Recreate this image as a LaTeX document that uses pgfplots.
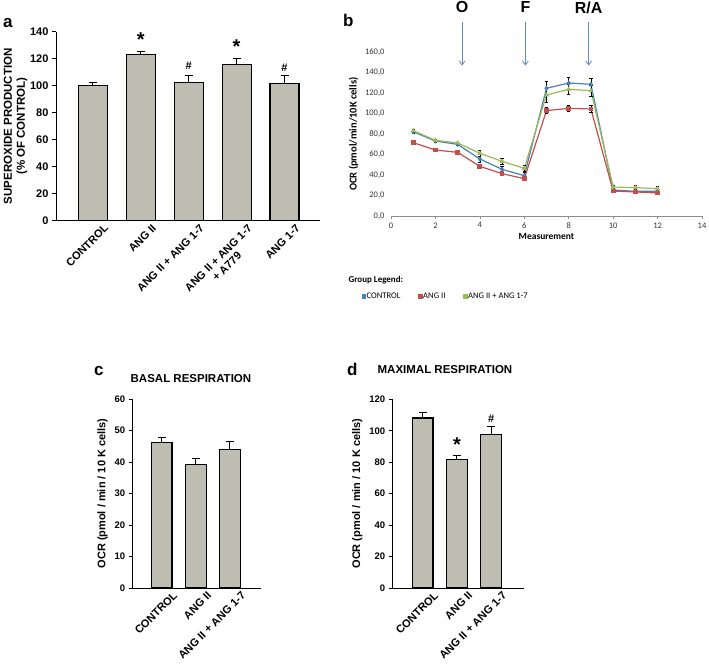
\documentclass[border=0pt]{standalone}
\usepackage{fontspec}
\setmainfont{Liberation Sans}
\newfontfamily\calibri{Carlito}
\usepackage{pgfplots}
\pgfplotsset{compat=1.18}
\usetikzlibrary{arrows.meta}
\definecolor{bargray}{RGB}{189,190,177}
\definecolor{xlblue}{RGB}{74,126,187}
\definecolor{xlred}{RGB}{192,80,77}
\definecolor{xlgreen}{RGB}{155,187,89}
\definecolor{arrowblue}{RGB}{95,140,195}

\pgfplotsset{
 barax/.style={
  scale only axis, anchor=south west, clip=false,
  axis lines*=left, axis line style={black, line width=1pt},
  ymin=0, xtick=data, ybar,
  xtick style={draw=none},
  ytick style={black, line width=1pt}, tick align=outside, major tick length=4pt,
  /pgf/number format/assume math mode=true,
  yticklabel style={font=\bfseries\fontsize{9.5}{10}\selectfont},
  xticklabel style={font=\bfseries\fontsize{11}{12}\selectfont, rotate=45, anchor=north east, align=center, inner sep=1pt, xshift=9.5pt, yshift=-5.6pt},
  ylabel style={font=\bfseries\fontsize{11}{13}\selectfont, align=center},
 },
 barplot/.style={fill=bargray, draw=black, line width=1.1pt,
   error bars/y dir=plus, error bars/y explicit,
   error bars/error bar style={black, line width=1pt},
   error bars/error mark options={rotate=90, black, mark size=4pt, line width=1pt}},
 lineplot/.style={line width=1.2pt, mark size=1.8pt, mark options={solid},
   error bars/y dir=both, error bars/y explicit,
   error bars/error bar style={black, line width=0.5pt},
   error bars/error mark options={rotate=90, black, mark size=1.6pt, line width=0.5pt}},
}

\begin{document}
\begin{tikzpicture}
\useasboundingbox (0,0) rectangle (709pt,-668pt);

% ---------------- panel a ----------------
\begin{axis}[barax, at={(56pt,-220.7pt)}, width=264pt, height=189pt,
  bar width=29pt, xmin=-0.77, xmax=4.74, ymax=140, ytick={0,20,...,140},
  yticklabel style={font=\bfseries\fontsize{11}{11}\selectfont},
  xticklabels={CONTROL, ANG II, ANG II + ANG 1-7, {ANG II + ANG 1-7\\+ A779}, ANG 1-7},
  ylabel={SUPEROXIDE PRODUCTION\\(\% OF CONTROL)},
  ylabel style={font=\bfseries\fontsize{11.5}{13}\selectfont, at={(axis description cs:-0.0955,0.5)}, anchor=south}]
\addplot[barplot] coordinates {
 (0,100.2) +- (0,1.8)
 (1,123.0) +- (0,2.6)
 (2,102.6) +- (0,5.0)
 (3,116.0) +- (0,4.5)
 (4,101.6) +- (0,6.2)
};
\node[font=\bfseries\fontsize{20}{20}\selectfont] at (axis cs:1,134.5) {*};
\node[font=\bfseries\fontsize{11}{11}\selectfont] at (axis cs:2,114.6) {\#};
\node[font=\bfseries\fontsize{20}{20}\selectfont] at (axis cs:3,129.2) {*};
\node[font=\bfseries\fontsize{11}{11}\selectfont] at (axis cs:4,113.4) {\#};
\end{axis}

% ---------------- panel b ----------------
\begin{axis}[scale only axis, anchor=south west, at={(391pt,-216pt)},
  width=311pt, height=163.7pt, clip=false,
  xmin=0, xmax=14, ymin=0, ymax=160,
  xtick={0,2,...,14}, ytick={0,20,...,160},
  axis lines*=left,
  y axis line style={draw=none}, x axis line style={draw=black!45, line width=0.6pt},
  ytick style={draw=none}, xtick style={draw=black!45, line width=0.6pt},
  tick align=outside, major tick length=3pt,
  /pgf/number format/assume math mode=true,
  ticklabel style={font=\calibri\fontsize{8.5}{9}\selectfont, text=black!80},
  yticklabel style={/pgf/number format/.cd, fixed, fixed zerofill, precision=1, use comma, 1000 sep={}},
  xlabel={Measurement},
  xlabel style={font=\calibri\bfseries\fontsize{9.5}{11}\selectfont, yshift=2pt},
  ylabel={OCR (pmol/min/10K cells)},
  ylabel style={font=\calibri\bfseries\fontsize{10.5}{11}\selectfont},
  legend columns=3,
  legend cell align=left,
  legend style={draw=none, fill=none, inner sep=0pt, at={(-0.0955,-0.493)}, anchor=west,
    font=\calibri\fontsize{8.6}{9}\selectfont,
    nodes={inner sep=0.5pt},
    /tikz/every even column/.append style={column sep=17pt}},
  legend image code/.code={\fill[#1, draw=none] (0pt,-2.4pt) rectangle (4.7pt,2.4pt);},
]
\addplot[lineplot, color=xlblue, mark=diamond*] coordinates {
 (1,82.4) +- (0,1.5) (2,73.3) +- (0,1.0) (3,70.0) +- (0,1.0) (4,55.7) +- (0,3.0)
 (5,45.6) +- (0,3.0) (6,39.4) +- (0,3.0) (7,124.8) +- (0,7.0) (8,130.0) +- (0,6.0)
 (9,128.7) +- (0,6.0) (10,25.4) +- (0,1.5) (11,24.1) +- (0,2.0) (12,24.1) +- (0,2.0)
};
\addlegendentry{CONTROL}
\addplot[lineplot, color=xlred, mark=square*] coordinates {
 (1,71.7) +- (0,1.0) (2,64.5) +- (0,1.0) (3,62.2) +- (0,1.0) (4,48.5) +- (0,2.0)
 (5,41.4) +- (0,2.0) (6,36.5) +- (0,1.5) (7,103.0) +- (0,3.0) (8,105.2) +- (0,3.0)
 (9,104.6) +- (0,3.5) (10,24.4) +- (0,1.0) (11,23.5) +- (0,1.0) (12,22.5) +- (0,1.0)
};
\addlegendentry{ANG II}
\addplot[lineplot, color=xlgreen, mark=triangle*] coordinates {
 (1,83.4) +- (0,1.5) (2,74.0) +- (0,1.0) (3,71.4) +- (0,1.0) (4,61.3) +- (0,3.0)
 (5,53.4) +- (0,3.0) (6,46.6) +- (0,3.0) (7,118.3) +- (0,7.0) (8,123.8) +- (0,5.0)
 (9,122.5) +- (0,5.0) (10,28.3) +- (0,2.0) (11,27.7) +- (0,2.0) (12,26.7) +- (0,2.0)
};
\addlegendentry{ANG II + ANG 1-7}
\draw[arrowblue, line width=0.8pt, -{Straight Barb[length=4pt,width=6pt]}] (axis cs:3.2,190) -- (axis cs:3.2,147);
\draw[arrowblue, line width=0.8pt, -{Straight Barb[length=4pt,width=6pt]}] (axis cs:6.05,190) -- (axis cs:6.05,147);
\draw[arrowblue, line width=0.8pt, -{Straight Barb[length=4pt,width=6pt]}] (axis cs:8.9,190) -- (axis cs:8.9,147);
\node[font=\bfseries\fontsize{16}{16}\selectfont] at (axis cs:3.2,203.8) {O};
\node[font=\bfseries\fontsize{16}{16}\selectfont] at (axis cs:6.05,203.8) {F};
\node[font=\bfseries\fontsize{16}{16}\selectfont] at (axis cs:8.9,203.8) {R/A};
\node[font=\calibri\bfseries\fontsize{9}{10}\selectfont, anchor=west, inner sep=0pt] at (axis description cs:-0.137,-0.391) {Group Legend:};
\end{axis}

% ---------------- panel c ----------------
\begin{axis}[barax, at={(132.7pt,-588pt)}, width=128pt, height=189pt,
  bar width=20.5pt, xmin=-0.85, xmax=2.9, ymax=60, ytick={0,10,...,60},
  xticklabels={CONTROL, ANG II, ANG II + ANG 1-7},
  ylabel={OCR (pmol / min / 10 K cells)}]
\addplot[barplot] coordinates {
 (0,46.1) +- (0,1.7)
 (1,39.3) +- (0,1.8)
 (2,43.9) +- (0,2.7)
};
\node[font=\bfseries\fontsize{11.5}{12}\selectfont] at (axis description cs:0.455,1.107) {BASAL RESPIRATION};
\end{axis}

% ---------------- panel d ----------------
\begin{axis}[barax, at={(392.7pt,-588pt)}, width=131.6pt, height=188.7pt,
  bar width=20.5pt, xmin=-0.88, xmax=2.97, ymax=120, ytick={0,20,...,120},
  xticklabels={CONTROL, ANG II, ANG II + ANG 1-7},
  ylabel={OCR (pmol / min / 10 K cells)}]
\addplot[barplot] coordinates {
 (0,108.1) +- (0,3.6)
 (1,82.0) +- (0,2.4)
 (2,97.7) +- (0,5.1)
};
\node[font=\bfseries\fontsize{20}{20}\selectfont] at (axis cs:1,91.5) {*};
\node[font=\bfseries\fontsize{11}{11}\selectfont] at (axis cs:2,107.8) {\#};
\node[font=\bfseries\fontsize{11.5}{12}\selectfont] at (axis description cs:0.397,1.16) {MAXIMAL RESPIRATION};
\end{axis}

% panel letters
\node[font=\bfseries\fontsize{17}{17}\selectfont, anchor=base west, inner sep=0pt] at (3pt,-27.3pt) {a};
\node[font=\bfseries\fontsize{17}{17}\selectfont, anchor=base west, inner sep=0pt] at (343pt,-27pt) {b};
\node[font=\bfseries\fontsize{17}{17}\selectfont, anchor=base west, inner sep=0pt] at (94pt,-375pt) {c};
\node[font=\bfseries\fontsize{17}{17}\selectfont, anchor=base west, inner sep=0pt] at (347pt,-375pt) {d};
\end{tikzpicture}
\end{document}
